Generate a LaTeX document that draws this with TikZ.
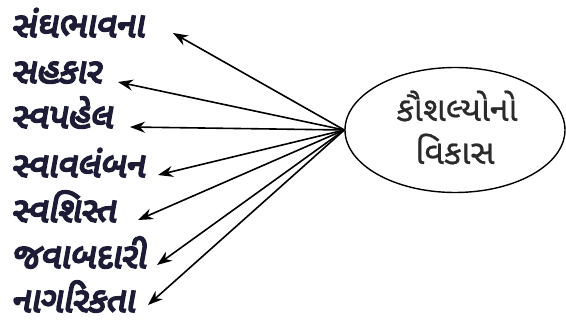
\documentclass[tikz,border=0pt]{standalone}
\usepackage{fontspec}
\usetikzlibrary{arrows.meta,shapes.geometric}
\newfontfamily\gujb[Script=Gujarati,FakeBold=5,FakeSlant=0.18]{Noto Sans Gujarati UI}
\newfontfamily\guj[Script=Gujarati,FakeBold=0.6]{Noto Sans Gujarati UI}
\definecolor{lblcol}{HTML}{1C1C36}
\definecolor{elcol}{HTML}{2A2A2A}
\tikzset{
  lbl/.style={anchor=base west, inner sep=0pt, text depth=2pt, text=lblcol, font=\gujb\fontsize{35}{40}\selectfont},
  arr/.style={draw=black, line width=1.6pt, -{Stealth[length=15pt,width=11pt]}},
  hub/.style={draw=black, line width=1.4pt, ellipse, inner sep=0pt, minimum width=220pt, minimum height=125pt},
  htxt/.style={text=elcol, font=\guj\fontsize{34}{44}\selectfont, anchor=base, inner sep=0pt}
}
\begin{document}
\begin{tikzpicture}[x=1pt,y=-1pt]
\useasboundingbox (0,0) rectangle (566,321);
\node[hub] (h) at (455,130) {};
\node[htxt] (e1) at (457,121) {કૌશલ્યોનો};
\node[htxt] (e2) at (455,164) {વિકાસ};
\coordinate (c) at (h.west);
\node[lbl] (l1) at (11,37) {સંઘભાવના};
\node[lbl] (l2) at (11,83) {સહકાર};
\node[lbl] (l3) at (11,128) {સ્વપહેલ};
\node[lbl] (l4) at (11,177) {સ્વાવલંબન};
\node[lbl] (l5) at (11,222) {સ્વશિસ્ત};
\node[lbl] (l6) at (11,268) {જવાબદારી};
\node[lbl] (l7) at (11,312) {નાગરિકતા};
\coordinate (t1) at (173,33);
\coordinate (t2) at (118,82);
\coordinate (t3) at (130,127);
\coordinate (t4) at (158,175);
\coordinate (t5) at (138,220);
\coordinate (t6) at (157,265);
\coordinate (t7) at (148,305);
\foreach \i in {1,...,7} { \draw[arr] (c) -- (t\i); }
\end{tikzpicture}
\end{document}
